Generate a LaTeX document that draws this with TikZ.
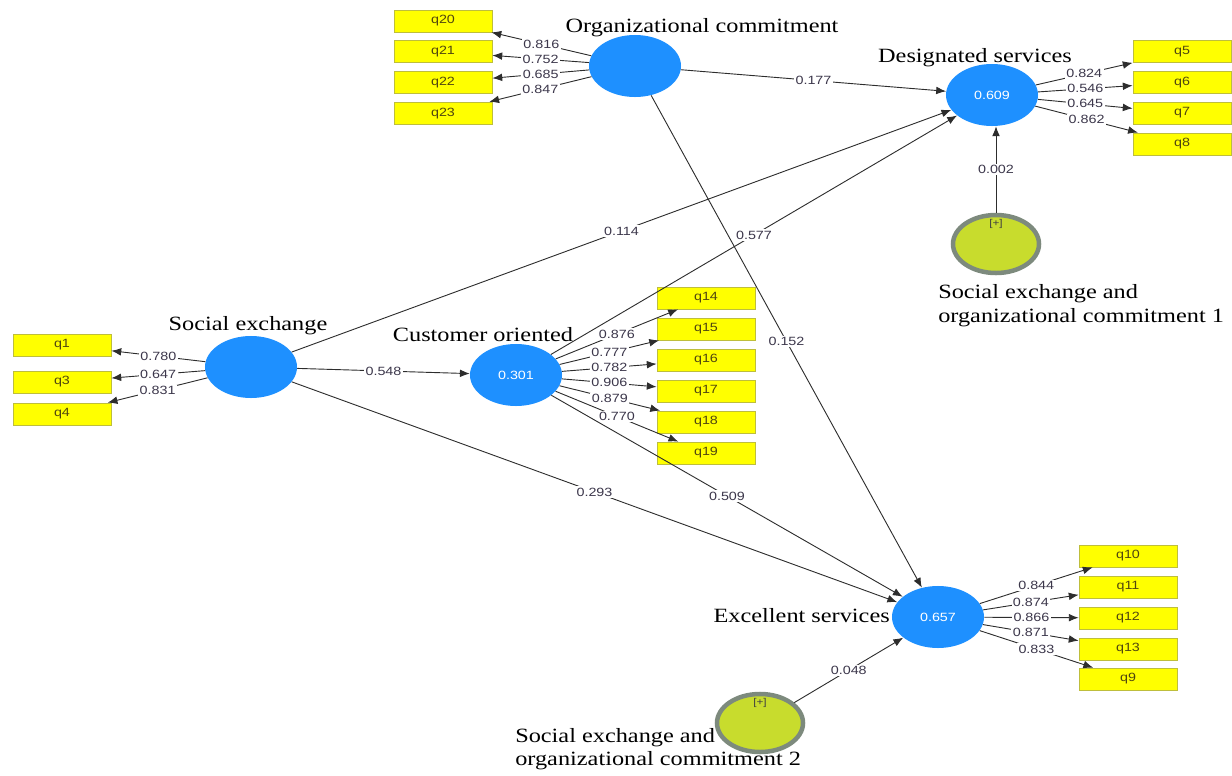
\documentclass[tikz,border=0pt]{standalone}
\usepackage{fontspec}
\newfontfamily\lvfont[FakeStretch=1.2]{Liberation Serif}
\newfontfamily\numfont[FakeStretch=1.2]{Liberation Sans}
\usetikzlibrary{shapes.geometric,arrows.meta}
\definecolor{plsblue}{RGB}{30,144,255}
\definecolor{indyellow}{RGB}{255,255,0}
\definecolor{indedge}{RGB}{190,190,60}
\definecolor{indtext}{RGB}{80,70,15}
\definecolor{modgreen}{RGB}{200,220,45}
\definecolor{modgray}{RGB}{125,138,125}
\definecolor{pathgray}{RGB}{45,45,45}
\definecolor{coeftext}{RGB}{60,55,75}
\tikzset{
>={Latex[length=7pt,width=5.5pt]},
  latent/.style={
    ellipse,
    fill=plsblue,
    minimum width=2.3cm,
    minimum height=1.55cm,
    inner sep=0pt,
    text=white,
    font=\numfont\fontsize{8.5}{10}\selectfont},
  indicator/.style={
    rectangle,
    fill=indyellow,
    draw=indedge, line width=0.5pt,
    minimum width=2.45cm,
    minimum height=0.55cm,
    inner sep=0pt,
    text=indtext,
    font=\numfont\fontsize{8.5}{10}\selectfont},
  moderator/.style={
    ellipse,
    fill=modgreen,
    draw=modgray, line width=3.2pt,
    minimum width=2.15cm,
    minimum height=1.45cm},
  lvname/.style={font=\lvfont\fontsize{14.4}{17}\selectfont, inner sep=0pt},
  coef/.style={font=\numfont\fontsize{8.5}{10}\selectfont, text=coeftext, fill=white, inner sep=1pt},
  pth/.style={draw=pathgray, line width=0.65pt, ->},
  plus/.style={font=\numfont\fontsize{7}{8}\selectfont, text=black!75, inner sep=0pt},
}
\begin{document}
\begin{tikzpicture}[x=0.025cm, y=-0.025cm]
    \useasboundingbox (0,0) rectangle (1232,776);
    % latent variables
    \node[latent] (oc) at (635,66)  {};
    \node[latent] (ds) at (992,95)  {0.609};
    \node[latent] (se) at (251,367) {};
    \node[latent] (co) at (516,375) {0.301};
    \node[latent] (es) at (938,617) {0.657};
    % names
    \node[lvname, anchor=base] (ocname) at (702,32)  {Organizational commitment};
    \node[lvname, anchor=base] (dsname) at (975,62)  {Designated services};
    \node[lvname, anchor=base] (sename) at (248,330) {Social exchange};
    \node[lvname, anchor=base] (coname) at (483,341) {Customer oriented};
    \node[lvname, anchor=base east] (esname) at (890,622) {Excellent services};
    \node[lvname, anchor=base west, align=left] (m1name) at (938,322)
        {Social exchange and\\organizational commitment 1};
    \node[lvname, anchor=base west, align=left,
          font=\lvfont\fontsize{14.4}{15.8}\selectfont] (m2name) at (515,765)
        {Social exchange and\\organizational commitment 2};
    % moderating effects
    \node[moderator] (m1) at (996,244) {};
    \node[moderator] (m2) at (760,723) {};
    \node[plus] at ([yshift=-0.28cm]m1.north) {[+]};
    \node[plus] at ([yshift=-0.28cm]m2.north) {[+]};
    % indicators
    \foreach \q [count=\i from 0] in {20,21,22,23}
        \node[indicator] (q\q) at (443,{21+30.7*\i}) {q\q};
    \foreach \q [count=\i from 0] in {5,6,7,8}
        \node[indicator] (q\q) at (1182,{51.5+30.8*\i}) {q\q};
    \foreach \q/\y in {1/345,3/382,4/414}
        \node[indicator] (q\q) at (62,\y) {q\q};
    \foreach \q [count=\i from 0] in {14,15,16,17,18,19}
        \node[indicator] (q\q) at (706,{298+31*\i}) {q\q};
    \foreach \q/\y in {10/556,11/587,12/618,13/649,9/679}
        \node[indicator] (q\q) at (1128,\y) {q\q};
    % outer loadings
    \foreach \q/\l in {20/0.816,21/0.752,22/0.685,23/0.847}
        \draw[pth] (oc) -- node[coef] {\l} (q\q);
    \foreach \q/\l in {5/0.824,6/0.546,7/0.645,8/0.862}
        \draw[pth] (ds) -- node[coef] {\l} (q\q);
    \foreach \q/\l in {1/0.780,3/0.647,4/0.831}
        \draw[pth] (se) -- node[coef] {\l} (q\q);
    \foreach \q/\l in {14/0.876,15/0.777,16/0.782,17/0.906,18/0.879,19/0.770}
        \draw[pth] (co) -- node[coef] {\l} (q\q);
    \foreach \q/\l in {10/0.844,11/0.874,12/0.866,13/0.871,9/0.833}
        \draw[pth] (es) -- node[coef] {\l} (q\q);
    % inner model
    \draw[pth] (oc) -- node[coef] {0.177} (ds);
    \draw[pth] (se) -- node[coef] {0.114} (ds);
    \draw[pth] (co) -- node[coef] {0.577} (ds);
    \draw[pth] (se) -- node[coef] {0.548} (co);
    \draw[pth] (se) -- node[coef] {0.293} (es);
    \draw[pth] (co) -- node[coef] {0.509} (es);
    \draw[pth] (oc) -- node[coef] {0.152} (es);
    \draw[pth] (m1) -- node[coef] {0.002} (m1 |- ds.south);
    \draw[pth] (m2) -- node[coef] {0.048} (es);
\end{tikzpicture}
\end{document}
